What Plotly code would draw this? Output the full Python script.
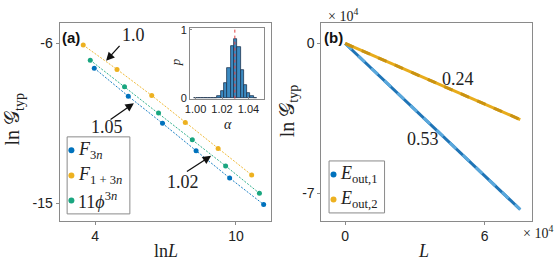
import plotly.graph_objects as go

# ---------------- data: panel (a) ----------------
lnL_F3n = [3.96, 5.41, 6.87, 8.30, 9.73, 11.18]
lnG_F3n = [-7.39, -8.97, -10.50, -12.04, -13.58, -15.07]
lnL_F13n = [3.49, 4.93, 6.41, 7.84, 9.24, 10.67]
lnG_F13n = [-6.09, -7.46, -8.93, -10.45, -11.91, -13.41]
lnL_phi = [3.79, 5.25, 6.70, 8.14, 9.56, 11.00]
lnG_phi = [-6.94, -8.44, -9.92, -11.42, -12.90, -14.44]

# inset histogram
alpha_centers = [1.0003, 1.0028, 1.0053, 1.0078, 1.0103, 1.0128, 1.0153,
                 1.0178, 1.0203, 1.0228, 1.0253, 1.0278, 1.0303, 1.0328,
                 1.0353, 1.0378, 1.0403, 1.0428, 1.0453]
alpha_p = [0.004, 0.004, 0.004, 0.004, 0.004, 0.004, 0.004,
           0.03, 0.10, 0.23, 0.45, 0.77, 0.87, 0.75,
           0.42, 0.20, 0.08, 0.04, 0.01]
alpha_mean = 1.0297

# ---------------- data: panel (b) ----------------
L_vals = [0, 15000, 30000, 45000, 60000, 75300]
lnG_Eout1 = [0, -15400, -30900, -46300, -61800, -77500]
lnG_Eout2 = [0, -7100, -14100, -21200, -28300, -35500]

# tick labels
a_xticks = [4, 10]
a_yticks = [-6, -15]
b_xticks = [0, 60000]
b_xticktext = ["0", "6"]
b_yticks = [0, -70000]
b_yticktext = ["0", "-7"]

C_BLUE = "#0072BD"
C_ORANGE = "#EDB120"
C_GREEN = "#1aa680"
FRAME = "#8a8a8a"
SERIF = "Liberation Serif, DejaVu Serif, serif"
SANS = "Liberation Sans, Arial, sans-serif"

W, H = 556, 269
def px(x):
    return x / W
def py(y):
    return 1 - y / H

fig = go.Figure()

for xs, ys, c, nm in [(lnL_F3n, lnG_F3n, C_BLUE, "F3n"),
                      (lnL_F13n, lnG_F13n, C_ORANGE, "F1+3n"),
                      (lnL_phi, lnG_phi, C_GREEN, "11phi3n")]:
    fig.add_trace(go.Scatter(x=xs, y=ys, mode="lines+markers", name=nm,
                             line=dict(color=c, width=0.9, dash="2px,1.5px"),
                             marker=dict(color=c, size=5),
                             xaxis="x", yaxis="y", showlegend=False))

fig.add_trace(go.Bar(x=alpha_centers, y=alpha_p, width=0.0025,
                     marker=dict(color="#3b8ac1", line=dict(color="#1d3550", width=0.8)),
                     xaxis="x3", yaxis="y3", showlegend=False))

for ys, c1, c2, nm in [(lnG_Eout1, "#1f74b6", "#5aa8dc", "Eout1"),
                       (lnG_Eout2, "#E8AC1C", "#c99212", "Eout2")]:
    fig.add_trace(go.Scatter(x=L_vals, y=ys, mode="lines", name=nm,
                             line=dict(color=c1, width=3),
                             xaxis="x2", yaxis="y2", showlegend=False))
    fig.add_trace(go.Scatter(x=L_vals, y=ys, mode="lines", name=nm + " fit",
                             line=dict(color=c2, width=3, dash="dash"),
                             xaxis="x2", yaxis="y2", showlegend=False))

axcommon = dict(showline=True, mirror=True, linecolor=FRAME, linewidth=1,
                showgrid=False, zeroline=False, ticks="outside", ticklen=3,
                tickcolor=FRAME, tickfont=dict(family=SANS, size=14, color="#222"))

fig.update_layout(
    width=W, height=H, margin=dict(l=0, r=0, t=0, b=0),
    paper_bgcolor="white", plot_bgcolor="white", bargap=0,
    xaxis=dict(domain=[px(55), px(268)], range=[2.479, 11.476],
               tickvals=a_xticks, anchor="y", **axcommon),
    yaxis=dict(domain=[py(225), py(20)], range=[-15.98, -4.861],
               tickvals=a_yticks, ticktext=[str(v) for v in a_yticks],
               anchor="x", **axcommon),
    xaxis2=dict(domain=[px(319.3), px(531.7)], range=[-10230, 80340],
                tickvals=b_xticks, ticktext=b_xticktext, anchor="y2", **axcommon),
    yaxis2=dict(domain=[py(225), py(20)], range=[-82700, 9440],
                tickvals=b_yticks, ticktext=b_yticktext, anchor="x2", **axcommon),
    xaxis3=dict(domain=[px(186.7), px(261)], range=[0.9958, 1.0515],
                tickvals=[1.00, 1.02, 1.04], ticktext=["1.00", "1.02", "1.04"],
                anchor="y3", showline=True, mirror=True, linecolor=FRAME,
                showgrid=False, zeroline=False, ticks="inside", ticklen=2,
                tickcolor=FRAME, tickfont=dict(family=SANS, size=11, color="#222")),
    yaxis3=dict(domain=[py(98.3), py(25)], range=[-0.004, 1.028],
                tickvals=[0, 1], anchor="x3", showline=True, mirror=True,
                linecolor=FRAME, showgrid=False, zeroline=False, ticks="inside",
                ticklen=2, tickcolor=FRAME,
                tickfont=dict(family=SANS, size=11, color="#222")),
)

shapes = [
    dict(type="line", xref="x3", yref="y3 domain", x0=alpha_mean, x1=alpha_mean,
         y0=0, y1=1, line=dict(color="#e04040", width=1, dash="dot")),
    # legend boxes
    dict(type="rect", xref="paper", yref="paper", x0=px(62.7), x1=px(126),
         y0=py(218), y1=py(138), line=dict(color=FRAME, width=1), fillcolor="white"),
    dict(type="rect", xref="paper", yref="paper", x0=px(327), x1=px(383),
         y0=py(217), y1=py(163), line=dict(color=FRAME, width=1), fillcolor="white"),
]
leg_a = [(152, C_BLUE), (178, C_ORANGE), (204, C_GREEN)]
leg_b = [(177, C_BLUE), (203, C_ORANGE)]
for yy, c in leg_a:
    shapes.append(dict(type="circle", xref="paper", yref="paper",
                       xsizemode="pixel", ysizemode="pixel",
                       xanchor=px(67), yanchor=py(yy), x0=-3, x1=3, y0=-3, y1=3,
                       fillcolor=c, line=dict(width=0)))
for yy, c in leg_b:
    shapes.append(dict(type="circle", xref="paper", yref="paper",
                       xsizemode="pixel", ysizemode="pixel",
                       xanchor=px(331.5), yanchor=py(yy), x0=-3, x1=3, y0=-3, y1=3,
                       fillcolor=c, line=dict(width=0)))
fig.update_layout(shapes=shapes)

ann = []
def T(text, x, y, size=18, family=SERIF, xanchor="center", yanchor="middle",
      angle=0, xref="paper", yref="paper", color="#222"):
    ann.append(dict(text=text, x=x, y=y, xref=xref, yref=yref, showarrow=False,
                    xanchor=xanchor, yanchor=yanchor, textangle=angle,
                    font=dict(family=family, size=size, color=color)))

def A(xh, yh, xt, yt, xr, yr):
    ann.append(dict(text="", x=xh, y=yh, ax=xt, ay=yt, xref=xr, yref=yr,
                    axref=xr, ayref=yr, showarrow=True, arrowhead=2,
                    arrowsize=1.3, arrowwidth=1.3, arrowcolor="#111",
                    standoff=0, startstandoff=0))

# panel labels
T("<b>(a)</b>", px(66.5), py(35), size=15, family=SANS, color="#111")
T("<b>(b)</b>", px(331.5), py(35), size=15, family=SANS, color="#111")

# axis titles
T("ln<i>L</i>", px(162), 0, size=18, yanchor="bottom")
T("<i>L</i>", px(422), 0, size=18, yanchor="bottom")
T("ln 𝒢<sub>typ</sub>", px(9), py(120), size=20, angle=-90)
T("ln 𝒢<sub>typ</sub>", px(286), py(111), size=20, angle=-90)
T("× 10<sup>4</sup>", px(341), py(11), size=14)
T("× 10<sup>4</sup>", px(555), py(237), size=14, xanchor="right")

# inset titles
T("<i>p</i>", px(172), py(60), size=13, angle=-90)
T("<i>α</i>", px(225), py(125), size=14)

# slope annotations panel (a)
T("1.0", 5.648, -5.512, xref="x", yref="y")
A(4.465, -6.976, 5.098, -6.054, "x", "y")
T("1.05", 4.507, -10.72, xref="x", yref="y")
A(5.648, -9.362, 4.591, -10.34, "x", "y")
T("1.02", 7.76, -13.81, xref="x", yref="y")
A(8.943, -12.33, 7.845, -13.27, "x", "y")

# slope annotations panel (b)
T("0.24", 48500, -16600, xref="x2", yref="y2")
T("0.53", 33600, -44500, xref="x2", yref="y2")

# legend texts
T("<i>F</i><sub>3<i>n</i></sub>", px(72), py(152), xanchor="left")
T("<i>F</i><sub>1 + 3<i>n</i></sub>", px(72), py(178), xanchor="left")
T("11<i>ϕ</i><sup>3<i>n</i></sup>", px(72), py(204), xanchor="left")
T("<i>E</i><sub>out,1</sub>", px(336), py(177), xanchor="left")
T("<i>E</i><sub>out,2</sub>", px(336), py(203), xanchor="left")

fig.update_layout(annotations=ann)
fig.write_html("out.html", config={"displayModeBar": False},
               post_script="document.body.style.margin='0';document.body.style.overflow='hidden';")
